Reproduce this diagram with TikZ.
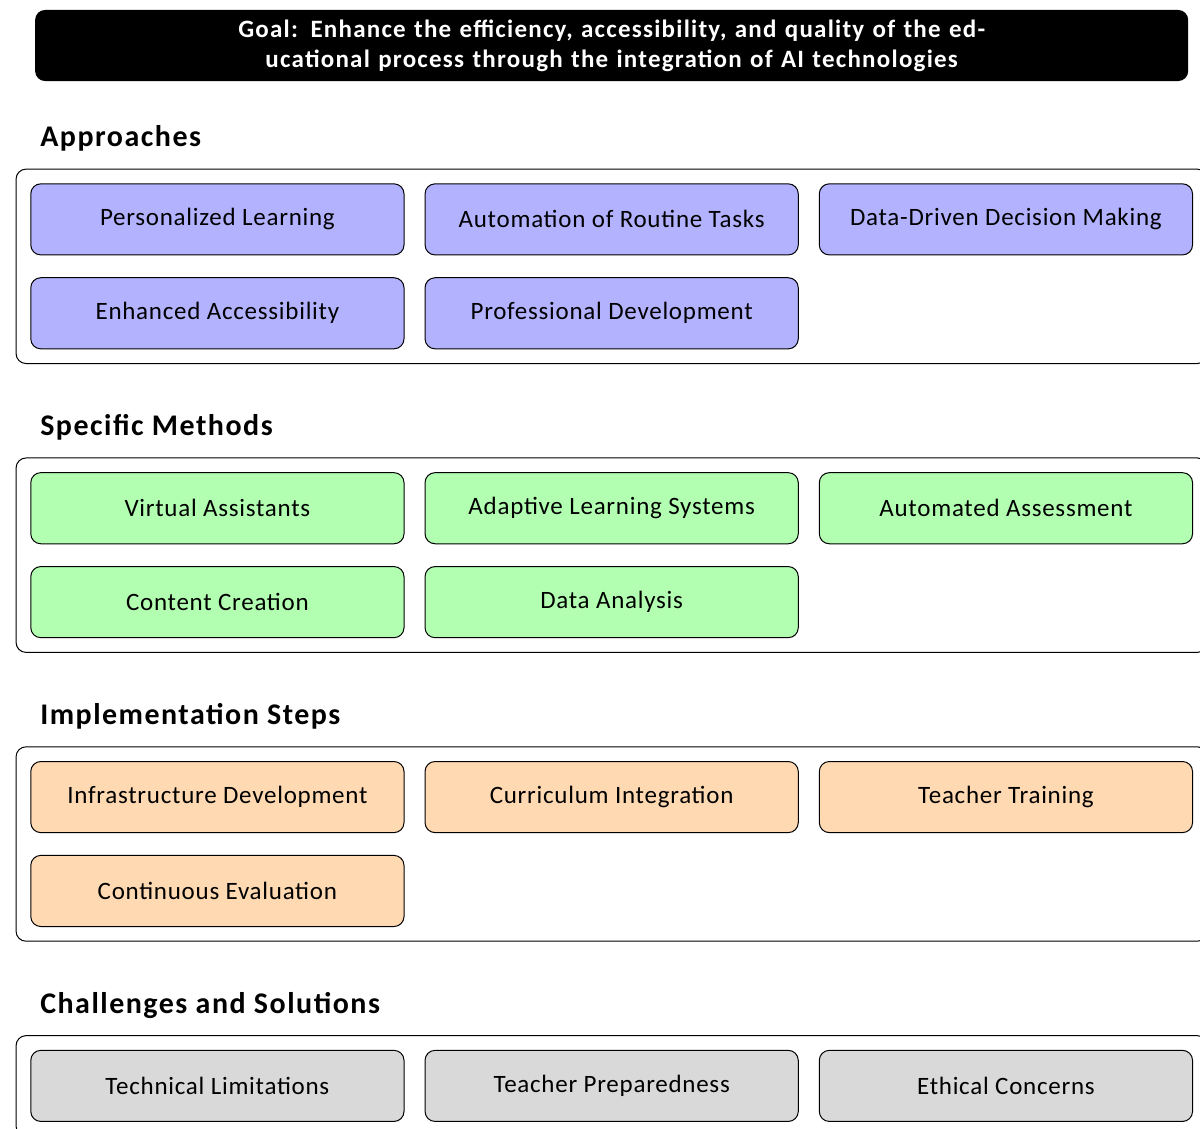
\documentclass[tikz,border=0pt]{standalone}
\usepackage{fontspec}
\setmainfont{Carlito}[LetterSpace=3,BoldFeatures={LetterSpace=5}]
\usepackage{xcolor}
\usepackage{tikz}
\usetikzlibrary{fit}

\begin{document}
\begin{tikzpicture}[
	goal/.style={rectangle,rounded corners,fill=black,text=white,font=\bfseries,
		text width=15.8cm,align=center,inner xsep=0.2cm,inner ysep=0.1cm,
		minimum width=16.22cm,minimum height=1cm},
	heading/.style={anchor=base west,font=\large\bfseries,inner sep=0pt},
	item/.style={rectangle,rounded corners,draw,minimum width=5.25cm,minimum height=1cm},
	frame/.style={rectangle,rounded corners,draw,inner sep=0.2cm},
	approach/.style={item,fill=blue!30},
	method/.style={item,fill=green!30},
	stage/.style={item,fill=orange!30},
	challenge/.style={item,fill=gray!30}]
	\clip (0,0) rectangle (16.88,-15.88);
	%
	\node[goal] (goal) at (8.604,-0.640) {Goal: Enhance the efficiency, accessibility, and quality of the ed-\\ucational process through the integration of AI technologies};
	%
	% approaches
	\node[heading] (hap) at (0.56,-2.067) {Approaches};
	\node[approach] (ap1) at (3.058,-3.086) {Personalized Learning};
	\node[approach] (ap2) at (8.604,-3.086) {Automation of Routine Tasks};
	\node[approach] (ap3) at (14.150,-3.086) {Data-Driven Decision Making};
	\node[approach] (ap4) at (3.058,-4.407) {Enhanced Accessibility};
	\node[approach] (ap5) at (8.604,-4.407) {Professional Development};
	\node[frame,fit=(ap1)(ap3)(ap4)] (fap) {};
	%
	% methods
	\node[heading] (hme) at (0.56,-6.130) {Specific Methods};
	\node[method] (me1) at (3.058,-7.149) {Virtual Assistants};
	\node[method] (me2) at (8.604,-7.149) {Adaptive Learning Systems};
	\node[method] (me3) at (14.150,-7.149) {Automated Assessment};
	\node[method] (me4) at (3.058,-8.470) {Content Creation};
	\node[method] (me5) at (8.604,-8.470) {Data Analysis};
	\node[frame,fit=(me1)(me3)(me4)] (fme) {};
	%
	% implementation
	\node[heading] (him) at (0.56,-10.193) {Implementation Steps};
	\node[stage] (im1) at (3.058,-11.212) {Infrastructure Development};
	\node[stage] (im2) at (8.604,-11.212) {Curriculum Integration};
	\node[stage] (im3) at (14.150,-11.212) {Teacher Training};
	\node[stage] (im4) at (3.058,-12.533) {Continuous Evaluation};
	\node[frame,fit=(im1)(im3)(im4)] (fim) {};
	%
	% challenges
	\node[heading] (hch) at (0.56,-14.256) {Challenges and Solutions};
	\node[challenge] (ch1) at (3.058,-15.275) {Technical Limitations};
	\node[challenge] (ch2) at (8.604,-15.275) {Teacher Preparedness};
	\node[challenge] (ch3) at (14.150,-15.275) {Ethical Concerns};
	\node[frame,fit=(ch1)(ch3)] (fch) {};
\end{tikzpicture}
\end{document}
